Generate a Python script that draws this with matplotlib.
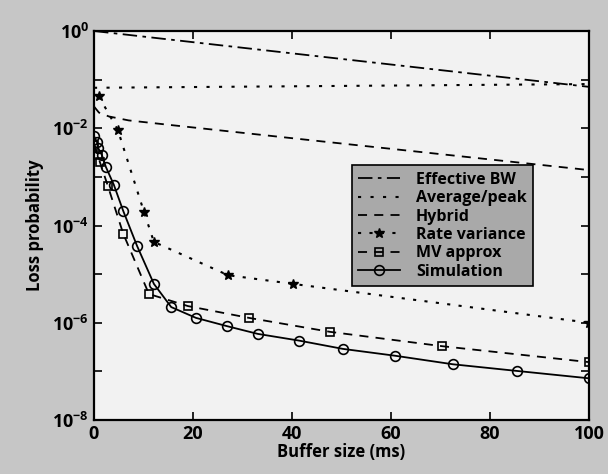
import numpy as np
import matplotlib.pyplot as plt
from matplotlib.ticker import FixedLocator, FixedFormatter, NullLocator, NullFormatter

plt.rcParams['font.family'] = ['Open Sans', 'DejaVu Sans']
plt.rcParams['font.weight'] = 'bold'
plt.rcParams['mathtext.fontset'] = 'custom'
plt.rcParams['mathtext.bf'] = 'Open Sans:bold'
plt.rcParams['mathtext.rm'] = 'Open Sans:bold'

# data
ebw_x = [0, 100]
ebw_y = [1.0, 7.1e-2]

avgpeak_x = [0, 100]
avgpeak_y = [6.8e-2, 8.1e-2]

hybrid_x = [0, 1, 3, 7, 16, 41.6, 100]
hybrid_y = [2.8e-2, 2.1e-2, 1.75e-2, 1.45e-2, 1.15e-2, 6.0e-3, 1.38e-3]

ratevar_x = [1.0, 4.8, 10.1, 12.1, 27.1, 40.2, 100]
ratevar_y = [4.5e-2, 9.3e-3, 1.9e-4, 4.6e-5, 9.5e-6, 6.3e-6, 1.0e-6]

mv_x = [0, 0.8, 1.2, 2.8, 5.9, 11.1, 19.0, 31.3, 47.7, 70.3, 100]
mv_y = [4.5e-3, 2.8e-3, 2.0e-3, 6.5e-4, 6.8e-5, 3.9e-6, 2.2e-6, 1.26e-6,
        6.5e-7, 3.3e-7, 1.55e-7]

sim_x = [0, 0.6, 0.8, 1.6, 2.4, 4.0, 5.9, 8.7, 12.1, 15.6, 20.6, 26.9, 33.1,
         41.4, 50.3, 60.8, 72.5, 85.5, 100]
sim_y = [6.9e-3, 5.2e-3, 4.0e-3, 2.8e-3, 1.6e-3, 6.9e-4, 2.0e-4, 3.8e-5, 6.3e-6,
         2.1e-6, 1.26e-6, 8.5e-7, 5.9e-7, 4.3e-7, 2.9e-7, 2.1e-7, 1.4e-7,
         1.02e-7, 7.2e-8]

xticks = [0, 20, 40, 60, 80, 100]
yticks = [1e0, 1e-2, 1e-4, 1e-6, 1e-8]
ylabels = [r'10$^{\mathbf{0}}$', r'10$^{\mathbf{-2}}$', r'10$^{\mathbf{-4}}$',
           r'10$^{\mathbf{-6}}$', r'10$^{\mathbf{-8}}$']

fig = plt.figure(figsize=(6.08, 4.74), dpi=100, facecolor='#c6c6c6')
ax = fig.add_axes([0.1546, 0.1139, 0.8142, 0.8207], facecolor='#f2f2f2')

ax.plot(ebw_x, ebw_y, color='black', lw=1.3, dashes=(8, 3, 2, 3), label='Effective BW')
ax.plot(avgpeak_x, avgpeak_y, color='black', lw=1.5, dashes=(1.5, 4.5), label='Average/peak')
ax.plot(hybrid_x, hybrid_y, color='black', lw=1.3, dashes=(5, 4), label='Hybrid')
ax.plot(ratevar_x, ratevar_y, color='black', lw=1.5, dashes=(1.5, 4),
        marker='*', ms=7, mfc='black', label='Rate variance')
ax.plot(mv_x, mv_y, color='black', lw=1.3, dashes=(5, 4), marker='s', ms=6,
        mfc='none', mew=1.2, label='MV approx')
ax.plot(sim_x, sim_y, color='black', lw=1.3, marker='o', ms=7, mfc='none',
        mew=1.2, label='Simulation')

ax.set_yscale('log')
ax.set_xlim(0, 100)
ax.set_ylim(1e-8, 1)
ax.xaxis.set_major_locator(FixedLocator(xticks))
ax.yaxis.set_major_locator(FixedLocator(yticks))
ax.yaxis.set_major_formatter(FixedFormatter(ylabels))
ax.yaxis.set_minor_locator(FixedLocator([1e-1, 1e-3, 1e-5, 1e-7]))
ax.yaxis.set_minor_formatter(NullFormatter())
ax.xaxis.set_minor_locator(NullLocator())
ax.tick_params(which='both', direction='in', top=True, right=True, width=1.2)
ax.tick_params(which='major', length=6, labelsize=13)
ax.tick_params(which='minor', length=6)
for s in ax.spines.values():
    s.set_linewidth(1.6)

ax.set_xlabel('Buffer size (ms)', fontsize=12, fontweight='bold', labelpad=0)
ax.set_ylabel('Loss probability', fontsize=12, fontweight='bold', labelpad=6)

leg = ax.legend(loc='upper left', bbox_to_anchor=(0.505, 0.675),
                prop={'size': 11.5, 'weight': 'bold'},
                frameon=True, fancybox=False, framealpha=1, facecolor='#a9a9a9',
                edgecolor='black', labelspacing=0.15, handlelength=2.6,
                borderpad=0.4, handletextpad=1.0)
leg.get_frame().set_linewidth(1.2)

fig.savefig('out.png', dpi=100, facecolor=fig.get_facecolor())
